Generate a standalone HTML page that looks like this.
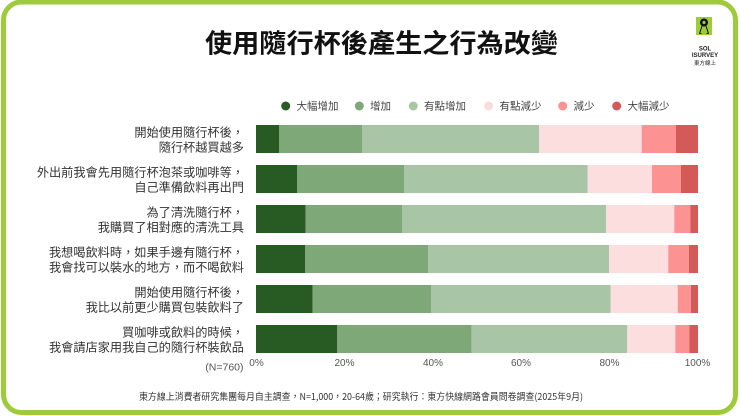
<!DOCTYPE html>
<html><head><meta charset="utf-8"><style>
html,body{margin:0;padding:0;background:#fff;}
svg{display:block;}
text{font-family:"Liberation Sans","Noto Sans CJK TC",sans-serif;}
.cjk{font-family:"Noto Sans CJK TC","Liberation Sans",sans-serif;}
</style></head><body>
<svg width="740" height="416" viewBox="0 0 740 416" xmlns="http://www.w3.org/2000/svg">
<rect x="0" y="0" width="740" height="416" fill="#fff"/>
<rect x="3.5" y="2" width="732" height="410.5" rx="18" ry="18" fill="#fff" stroke="#9dcb3c" stroke-width="5"/>

<!-- title -->
<text class="cjk" x="205" y="42" dominant-baseline="central" font-size="26" font-weight="bold" fill="#111" textLength="353" lengthAdjust="spacingAndGlyphs">使用隨行杯後產生之行為改變</text>

<!-- logo -->
<rect x="696" y="17" width="16" height="18" fill="#9dcb3c"/>
<circle cx="704" cy="22.5" r="4" fill="#111"/>
<circle cx="704" cy="22.5" r="1.6" fill="#9dcb3c"/>
<path d="M702 26 L699.5 33.5 M706 26 L708.5 33.5 M699.5 33.5 h2 M708.5 33.5 h-2" stroke="#111" stroke-width="1" fill="none"/>
<text x="705" y="49.5" text-anchor="middle" dominant-baseline="central" font-size="6" font-weight="bold" fill="#222">SOL</text>
<text x="705" y="56" text-anchor="middle" dominant-baseline="central" font-size="6" font-weight="bold" fill="#222">ISURVEY</text>
<text class="cjk" x="705" y="63" text-anchor="middle" dominant-baseline="central" font-size="5.5" fill="#222">東方線上</text>

<!-- legend -->
<g font-size="10.5" fill="#444" class="cjk">
<circle cx="285.7" cy="106" r="4.5" fill="#285a24"/><text class="cjk" x="296.5" y="106" dominant-baseline="central">大幅增加</text>
<circle cx="359.3" cy="106" r="4.5" fill="#7ea878"/><text class="cjk" x="370" y="106" dominant-baseline="central">增加</text>
<circle cx="413.3" cy="106" r="4.5" fill="#a8c6a5"/><text class="cjk" x="424" y="106" dominant-baseline="central">有點增加</text>
<circle cx="488.7" cy="106" r="4.5" fill="#fbdcdc"/><text class="cjk" x="499.5" y="106" dominant-baseline="central">有點減少</text>
<circle cx="562.7" cy="106" r="4.5" fill="#fc9292"/><text class="cjk" x="573.5" y="106" dominant-baseline="central">減少</text>
<circle cx="616.7" cy="106" r="4.5" fill="#d45a5a"/><text class="cjk" x="627.5" y="106" dominant-baseline="central">大幅減少</text>
</g>

<!-- bars -->
<g>
<!-- bar1 -->
<rect x="256" y="125" width="23.3" height="28" fill="#285a24"/>
<rect x="279.3" y="125" width="82.7" height="28" fill="#7ea878"/>
<rect x="362" y="125" width="177" height="28" fill="#a8c6a5"/>
<rect x="539" y="125" width="102.7" height="28" fill="#fddede"/>
<rect x="641.7" y="125" width="34.3" height="28" fill="#fc9292"/>
<rect x="676" y="125" width="22" height="28" fill="#d45a5a"/>
<!-- bar2 -->
<rect x="256" y="165" width="41" height="28" fill="#285a24"/>
<rect x="297" y="165" width="107" height="28" fill="#7ea878"/>
<rect x="404" y="165" width="183.7" height="28" fill="#a8c6a5"/>
<rect x="587.7" y="165" width="64.3" height="28" fill="#fddede"/>
<rect x="652" y="165" width="29" height="28" fill="#fc9292"/>
<rect x="681" y="165" width="17" height="28" fill="#d45a5a"/>
<!-- bar3 -->
<rect x="256" y="205" width="49.7" height="28" fill="#285a24"/>
<rect x="305.7" y="205" width="96.3" height="28" fill="#7ea878"/>
<rect x="402" y="205" width="204" height="28" fill="#a8c6a5"/>
<rect x="606" y="205" width="68.3" height="28" fill="#fddede"/>
<rect x="674.3" y="205" width="16" height="28" fill="#fc9292"/>
<rect x="690.3" y="205" width="7.7" height="28" fill="#d45a5a"/>
<!-- bar4 -->
<rect x="256" y="245" width="49" height="28" fill="#285a24"/>
<rect x="305" y="245" width="123.3" height="28" fill="#7ea878"/>
<rect x="428.3" y="245" width="180.7" height="28" fill="#a8c6a5"/>
<rect x="609" y="245" width="59.3" height="28" fill="#fddede"/>
<rect x="668.3" y="245" width="20.7" height="28" fill="#fc9292"/>
<rect x="689" y="245" width="9" height="28" fill="#d45a5a"/>
<!-- bar5 -->
<rect x="256" y="285" width="56.7" height="28" fill="#285a24"/>
<rect x="312.7" y="285" width="118.3" height="28" fill="#7ea878"/>
<rect x="431" y="285" width="179.7" height="28" fill="#a8c6a5"/>
<rect x="610.7" y="285" width="67" height="28" fill="#fddede"/>
<rect x="677.7" y="285" width="13.3" height="28" fill="#fc9292"/>
<rect x="691" y="285" width="7" height="28" fill="#d45a5a"/>
<!-- bar6 -->
<rect x="256" y="325" width="81.3" height="28" fill="#285a24"/>
<rect x="337.3" y="325" width="134.4" height="28" fill="#7ea878"/>
<rect x="471.7" y="325" width="155.6" height="28" fill="#a8c6a5"/>
<rect x="627.3" y="325" width="48" height="28" fill="#fddede"/>
<rect x="675.3" y="325" width="14" height="28" fill="#fc9292"/>
<rect x="689.3" y="325" width="8.7" height="28" fill="#d45a5a"/>
</g>

<!-- category labels -->
<g font-size="12.2" fill="#333" text-anchor="end">
<text class="cjk" x="244" y="131.5" dominant-baseline="central">開始使用隨行杯後，</text>
<text class="cjk" x="244" y="146.5" dominant-baseline="central">隨行杯越買越多</text>
<text class="cjk" x="244" y="171.5" dominant-baseline="central">外出前我會先用隨行杯泡茶或咖啡等，</text>
<text class="cjk" x="244" y="186.5" dominant-baseline="central">自己準備飲料再出門</text>
<text class="cjk" x="244" y="211.5" dominant-baseline="central">為了清洗隨行杯，</text>
<text class="cjk" x="244" y="226.5" dominant-baseline="central">我購買了相對應的清洗工具</text>
<text class="cjk" x="244" y="251.5" dominant-baseline="central">我想喝飲料時，如果手邊有隨行杯，</text>
<text class="cjk" x="244" y="266.5" dominant-baseline="central">我會找可以裝水的地方，而不喝飲料</text>
<text class="cjk" x="244" y="291.5" dominant-baseline="central">開始使用隨行杯後，</text>
<text class="cjk" x="244" y="306.5" dominant-baseline="central">我比以前更少購買包裝飲料了</text>
<text class="cjk" x="244" y="331.5" dominant-baseline="central">買咖啡或飲料的時候，</text>
<text class="cjk" x="244" y="346.5" dominant-baseline="central">我會請店家用我自己的隨行杯裝飲品</text>
</g>
<text x="243.5" y="367.5" text-anchor="end" dominant-baseline="central" font-size="10.5" fill="#555">(N=760)</text>

<!-- x ticks -->
<g font-size="10" fill="#555" text-anchor="middle">
<text x="256.5" y="363.5" dominant-baseline="central">0%</text>
<text x="344.5" y="363.5" dominant-baseline="central">20%</text>
<text x="433" y="363.5" dominant-baseline="central">40%</text>
<text x="521" y="363.5" dominant-baseline="central">60%</text>
<text x="609.5" y="363.5" dominant-baseline="central">80%</text>
<text x="697.5" y="363.5" dominant-baseline="central">100%</text>
</g>

<!-- footer -->
<text class="cjk" x="139" y="396" dominant-baseline="central" font-size="9.5" fill="#333" textLength="444" lengthAdjust="spacingAndGlyphs">東方線上消費者研究集團每月自主調查，N=1,000，20-64歲；研究執行：東方快線網路會員問卷調查(2025年9月)</text>
</svg>
</body></html>
